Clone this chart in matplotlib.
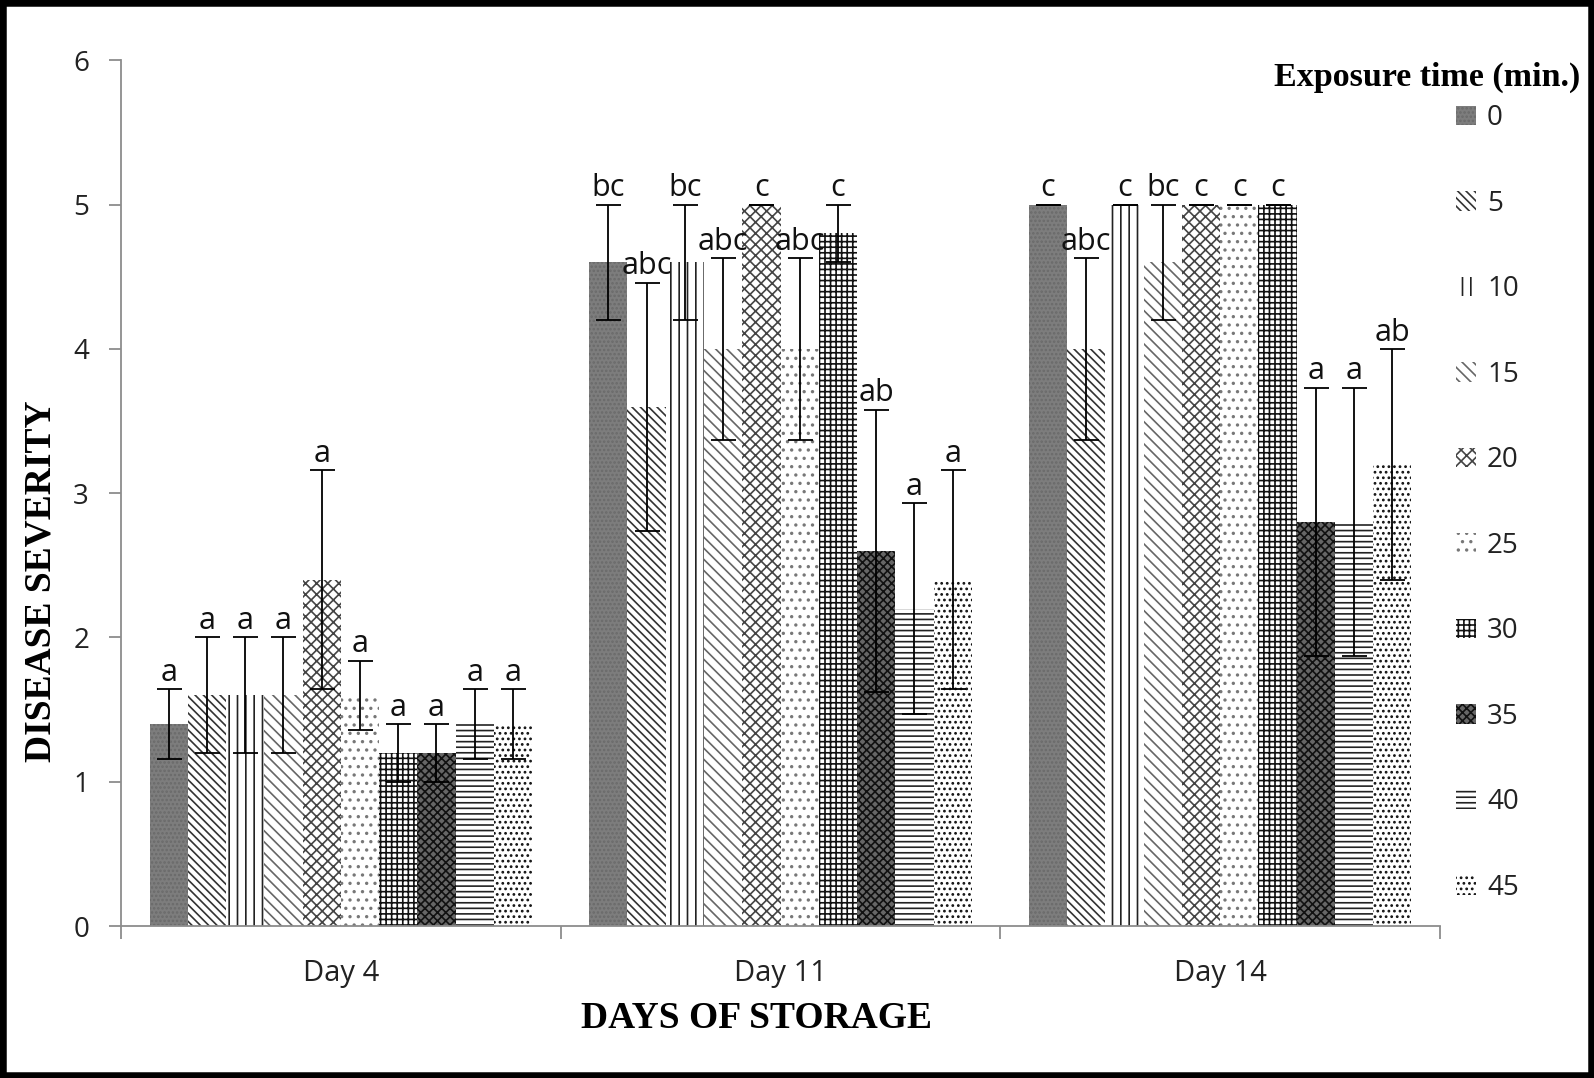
import matplotlib
matplotlib.use("Agg")
import matplotlib.pyplot as plt
from matplotlib.patches import Rectangle
import numpy as np

days = ["Day 4", "Day 11", "Day 14"]
exposure = ["0", "5", "10", "15", "20", "25", "30", "35", "40", "45"]

# mean disease severity per exposure time, one list per day
day4_mean = [1.4, 1.6, 1.6, 1.6, 2.4, 1.6, 1.2, 1.2, 1.4, 1.4]
day11_mean = [4.6, 3.6, 4.6, 4.0, 5.0, 4.0, 4.8, 2.6, 2.2, 2.4]
day14_mean = [5.0, 4.0, 5.0, 4.6, 5.0, 5.0, 5.0, 2.8, 2.8, 3.2]

day4_err = [0.24, 0.4, 0.4, 0.4, 0.76, 0.24, 0.2, 0.2, 0.24, 0.24]
day11_err = [0.4, 0.86, 0.4, 0.63, 0.0, 0.63, 0.2, 0.98, 0.73, 0.76]
day14_err = [0.0, 0.63, 0.0, 0.4, 0.0, 0.0, 0.0, 0.93, 0.93, 0.8]

day4_letters = ["a", "a", "a", "a", "a", "a", "a", "a", "a", "a"]
day11_letters = ["bc", "abc", "bc", "abc", "c", "abc", "c", "ab", "a", "a"]
day14_letters = ["c", "abc", "c", "bc", "c", "c", "c", "a", "a", "ab"]

means = np.array([day4_mean, day11_mean, day14_mean])
errs = np.array([day4_err, day11_err, day14_err])
letters = [day4_letters, day11_letters, day14_letters]

# (facecolor, hatch colour, hatch)
styles = [
    ("#7d7d7d", "#6a6a6a", "...."),
    ("white", "#333333", "\\\\\\\\"),
    ("white", "#222222", "||"),
    ("white", "#666666", "\\\\\\"),
    ("white", "#444444", "xxx"),
    ("white", "#777777", ".."),
    ("white", "#111111", "+++"),
    ("#666666", "#111111", "xxxx"),
    ("white", "#222222", "---"),
    ("white", "#111111", "..."),
]

plt.rcParams["hatch.linewidth"] = 1.2
sans = ["Open Sans", "DejaVu Sans"]
serif = ["Liberation Serif", "DejaVu Serif"]

fig = plt.figure(figsize=(15.94, 10.78), dpi=100)
ax = fig.add_axes([0.0759, 0.141, 0.9034 - 0.0759, 0.944 - 0.141])

x = np.arange(len(days))
n = len(exposure)
total = 0.87
w = total / n
handles = []
for j in range(n):
    fc, hc, hatch = styles[j]
    pos = x - total / 2 + (j + 0.5) * w
    b = ax.bar(pos, means[:, j], width=w, facecolor=fc, edgecolor=hc,
               hatch=hatch, linewidth=0, label=exposure[j], zorder=2)
    handles.append(b)
    ax.errorbar(pos, means[:, j], yerr=errs[:, j], fmt="none", ecolor="black",
                elinewidth=1.3, capsize=9, capthick=1.3, zorder=3)
    for i in range(len(days)):
        ax.annotate(letters[i][j], (pos[i], means[i, j] + errs[i, j]),
                    xytext=(0, 1), textcoords="offset points",
                    ha="center", va="bottom", fontsize=22, family=sans,
                    color="#111111", zorder=4)

ax.set_xlim(-0.5, 2.5)
ax.set_ylim(0, 6)
ax.set_yticks(range(0, 7))
ax.set_xticks(x)
ax.set_xticklabels(days)
ax.set_xticks([-0.5, 0.5, 1.5, 2.5], minor=True)
ax.tick_params(axis="x", which="major", length=0, pad=24, labelsize=21,
               labelcolor="#222222")
ax.tick_params(axis="x", which="minor", length=9, width=1.3, color="#8c8c8c")
ax.tick_params(axis="y", which="major", length=9, width=1.3, color="#8c8c8c",
               labelsize=20, labelcolor="#222222", pad=14)
for lab in ax.get_xticklabels() + ax.get_yticklabels():
    lab.set_family(sans)
for s in ["top", "right"]:
    ax.spines[s].set_visible(False)
for s in ["left", "bottom"]:
    ax.spines[s].set_color("#8c8c8c")
    ax.spines[s].set_linewidth(1.3)

ax.set_xlabel("DAYS OF STORAGE", family=serif, fontweight="bold", fontsize=27,
              va="center", ha="center")
ax.xaxis.set_label_coords(0.482, -0.107)
ax.set_ylabel("DISEASE SEVERITY", family=serif, fontweight="bold", fontsize=27,
              va="center", ha="center")
ax.yaxis.set_label_coords(-0.061, 0.398)

leg = fig.legend(handles=handles, labels=exposure, loc="upper left",
                 bbox_to_anchor=(0.905, 0.916), frameon=False,
                 handlelength=0.7, handleheight=0.7, handletextpad=0.4,
                 labelspacing=2.07, borderpad=0, prop={"family": sans, "size": 20})
for t in leg.get_texts():
    t.set_color("#222222")

fig.text(0.799, 0.928, "Exposure time (min.)", family=serif, fontweight="bold",
         fontsize=24.5, ha="left", va="center")

fig.add_artist(Rectangle((0, 0), 1, 1, transform=fig.transFigure, fill=False,
                         edgecolor="black", linewidth=9, zorder=10))

fig.savefig("out.png", dpi=100)
